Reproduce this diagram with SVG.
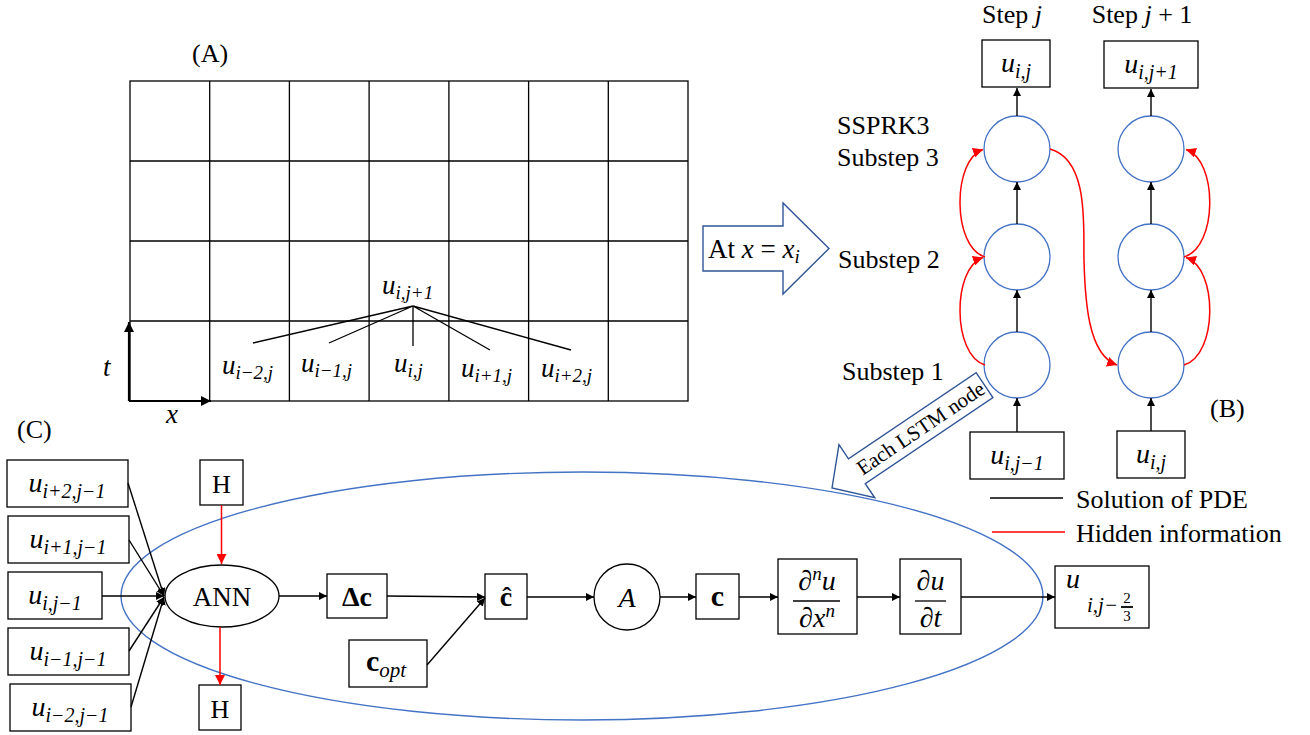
<svg xmlns="http://www.w3.org/2000/svg" width="1310" height="735" viewBox="0 0 1310 735">
<defs>
<style>
.r{font-family:"Liberation Serif","Times New Roman","DejaVu Serif",serif;font-size:26px;fill:#000}
.m{font-family:"Liberation Serif","Times New Roman","DejaVu Serif",serif;font-style:italic;font-size:28px;fill:#000}
.gm{font-family:"Liberation Serif","Times New Roman","DejaVu Serif",serif;font-style:italic;font-size:27px;fill:#000}
.s{font-size:20px}
.ln{stroke:#000;stroke-width:1.3;fill:none}
.box{stroke:#000;stroke-width:1.3;fill:#fff}
.cir{stroke:#4472C4;stroke-width:1.3;fill:#fff}
.red{stroke:#FF0000;stroke-width:1.5;fill:none}
.blk{stroke:#000;stroke-width:1.4;fill:none}
</style>
<marker id="ab" viewBox="0 0 10 10" refX="10" refY="5" markerWidth="8" markerHeight="8" markerUnits="userSpaceOnUse" orient="auto"><path d="M0,0 L10,5 L0,10 z" fill="#000"/></marker>
<marker id="abk" viewBox="0 0 10 10" refX="10" refY="5" markerWidth="10" markerHeight="10" markerUnits="userSpaceOnUse" orient="auto"><path d="M0,0 L10,5 L0,10 z" fill="#000"/></marker>
<marker id="ar" viewBox="0 0 10 10" refX="10" refY="5" markerWidth="10" markerHeight="10" markerUnits="userSpaceOnUse" orient="auto"><path d="M0,0 L10,5 L0,10 z" fill="#FF0000"/></marker>
</defs>
<rect width="1310" height="735" fill="#fff"/>

<!-- (A) grid -->
<g id="gridA">
<text class="r" x="192" y="62">(A)</text>
<rect x="130" y="81" width="558" height="320" class="ln"/>
<path class="ln" d="M209.7,81V401 M289.4,81V401 M369.1,81V401 M448.9,81V401 M528.6,81V401 M608.3,81V401 M130,161H688 M130,241H688 M130,321H688"/>
<line x1="129" y1="401" x2="129" y2="322" stroke="#000" stroke-width="2.2" marker-end="url(#abk)"/>
<line x1="129" y1="401" x2="211" y2="401" stroke="#000" stroke-width="2.2" marker-end="url(#abk)"/>
<text class="gm" x="103" y="376">t</text>
<text class="gm" x="166" y="423">x</text>
<path class="ln" d="M413,306L253,343 M413,306L329,343 M413,306L413,346 M413,306L490,350 M413,306L571,350"/>
<text class="gm" x="382" y="294">u<tspan dy="5" style="font-size:19px">i,j+1</tspan></text>
<text class="gm" x="222" y="374">u<tspan dy="5" style="font-size:19px">i−2,j</tspan></text>
<text class="gm" x="301" y="372">u<tspan dy="5" style="font-size:19px">i−1,j</tspan></text>
<text class="gm" x="394" y="372">u<tspan dy="5" style="font-size:19px">i,j</tspan></text>
<text class="gm" x="461" y="377">u<tspan dy="5" style="font-size:19px">i+1,j</tspan></text>
<text class="gm" x="541" y="377">u<tspan dy="5" style="font-size:19px">i+2,j</tspan></text>
</g>

<!-- block arrow At x = x_i -->
<g id="atArrow">
<path d="M703,226 H783 V203 L829,248.5 L783,294 V271 H703 Z" fill="#fff" stroke="#2F5597" stroke-width="1.4"/>
<text class="r" x="708" y="258" style="font-size:27px">At <tspan style="font-style:italic">x</tspan> = <tspan style="font-style:italic">x</tspan><tspan style="font-style:italic;font-size:19px" dy="5">i</tspan></text>
</g>

<!-- (B) labels -->
<g id="labelsB">
<text class="r" x="1012" y="23" text-anchor="middle">Step <tspan style="font-style:italic">j</tspan></text>
<text class="r" x="1142" y="23" text-anchor="middle">Step <tspan style="font-style:italic">j</tspan> + 1</text>
<text class="r" x="837" y="134">SSPRK3</text>
<text class="r" x="837" y="166">Substep 3</text>
<text class="r" x="838" y="268">Substep 2</text>
<text class="r" x="842" y="380">Substep 1</text>
<text class="r" x="1210" y="417">(B)</text>
</g>

<g id="boxTopJ"><rect class="box" x="982" y="40" width="68" height="47"/><text class="m" x="1016" y="72" text-anchor="middle">u<tspan class="s" dy="6">i,j</tspan></text></g>
<g id="boxTopJ1"><rect class="box" x="1104" y="41" width="94" height="47"/><text class="m" x="1151" y="73" text-anchor="middle">u<tspan class="s" dy="6">i,j+1</tspan></text></g>
<g id="boxBotJ"><rect class="box" x="970" y="432" width="94" height="47"/><text class="m" x="1017" y="464" text-anchor="middle">u<tspan class="s" dy="6">i,j−1</tspan></text></g>
<g id="boxBotJ1"><rect class="box" x="1117" y="431" width="68" height="47"/><text class="m" x="1151" y="463" text-anchor="middle">u<tspan class="s" dy="6">i,j</tspan></text></g>

<g id="c1a"><circle class="cir" cx="1017" cy="365" r="33"/></g>
<g id="c1b"><circle class="cir" cx="1017" cy="257" r="33"/></g>
<g id="c1c"><circle class="cir" cx="1017" cy="149" r="33"/></g>
<g id="c2a"><circle class="cir" cx="1151" cy="365" r="33"/></g>
<g id="c2b"><circle class="cir" cx="1151" cy="257" r="33"/></g>
<g id="c2c"><circle class="cir" cx="1151" cy="149" r="33"/></g>

<!-- legend -->
<g id="legend">
<line x1="990" y1="498" x2="1063" y2="498" stroke="#000" stroke-width="1.4"/>
<text class="r" x="1076" y="508">Solution of PDE</text>
<line x1="992" y1="532" x2="1065" y2="532" stroke="#FF0000" stroke-width="1.4"/>
<text class="r" x="1076" y="542">Hidden information</text>
</g>

<!-- Each LSTM node arrow -->
<g id="lstmArrow" transform="translate(832,488) rotate(-34)">
<path d="M0,0 L30,-32 L30,-15 L184,-15 L184,15 L30,15 L30,32 Z" fill="#fff" stroke="#2F5597" stroke-width="1.4"/>
<text class="r" x="107" y="7" text-anchor="middle" style="font-size:21px">Each LSTM node</text>
</g>

<!-- (C) -->
<text class="r" x="17" y="438">(C)</text>
<g id="bigEllipse"><ellipse cx="582" cy="596" rx="461" ry="124" fill="none" stroke="#4472C4" stroke-width="1.4"/></g>

<g id="in1"><rect class="box" x="7" y="460" width="121" height="47"/><text class="m" x="67" y="492" text-anchor="middle">u<tspan class="s" dy="6">i+2,j−1</tspan></text></g>
<g id="in2"><rect class="box" x="8" y="516" width="121" height="47"/><text class="m" x="68" y="548" text-anchor="middle">u<tspan class="s" dy="6">i+1,j−1</tspan></text></g>
<g id="in3"><rect class="box" x="8" y="572" width="94" height="47"/><text class="m" x="55" y="604" text-anchor="middle">u<tspan class="s" dy="6">i,j−1</tspan></text></g>
<g id="in4"><rect class="box" x="8" y="628" width="121" height="47"/><text class="m" x="68" y="660" text-anchor="middle">u<tspan class="s" dy="6">i−1,j−1</tspan></text></g>
<g id="in5"><rect class="box" x="10" y="684" width="121" height="47"/><text class="m" x="70" y="716" text-anchor="middle">u<tspan class="s" dy="6">i−2,j−1</tspan></text></g>

<g id="ann"><ellipse cx="222" cy="596" rx="57" ry="31" fill="#fff" stroke="#000" stroke-width="1.3"/><text class="r" x="222" y="606" text-anchor="middle" style="font-size:27px">ANN</text></g>
<g id="hTop"><rect class="box" x="200" y="460" width="43" height="45"/><text class="r" x="221.5" y="493" text-anchor="middle">H</text></g>
<g id="hBot"><rect class="box" x="199" y="685" width="42" height="45"/><text class="r" x="220" y="718" text-anchor="middle">H</text></g>

<g id="dc"><rect class="box" x="327" y="574" width="60" height="44"/><text class="r" x="357" y="606" text-anchor="middle" style="font-size:28px;font-weight:bold">Δc</text></g>
<g id="copt"><rect class="box" x="349" y="640" width="78" height="47"/><text class="r" x="386" y="671" text-anchor="middle" style="font-size:30px"><tspan font-weight="bold">c</tspan><tspan style="font-style:italic;font-size:21px" dy="6">opt</tspan></text></g>
<g id="chat"><rect class="box" x="485" y="574" width="42" height="45"/><text class="r" x="506" y="606" text-anchor="middle" style="font-size:28px;font-weight:bold">ĉ</text></g>
<g id="aNode"><circle cx="627" cy="597" r="33" fill="#fff" stroke="#000" stroke-width="1.3"/><text class="m" x="627" y="607" text-anchor="middle">A</text></g>
<g id="cNode"><rect class="box" x="696" y="574" width="43" height="45"/><text class="r" x="717.5" y="606" text-anchor="middle" style="font-size:30px;font-weight:bold">c</text></g>
<g id="dnu"><rect class="box" x="778" y="559" width="79" height="75"/>
<text class="m" x="817" y="590" text-anchor="middle">∂<tspan style="font-size:19px" dy="-10">n</tspan><tspan dy="10">u</tspan></text>
<line x1="793" y1="601" x2="840" y2="601" stroke="#000" stroke-width="1.3"/>
<text class="m" x="817" y="627" text-anchor="middle">∂x<tspan style="font-size:19px" dy="-10">n</tspan></text></g>
<g id="dut"><rect class="box" x="900" y="559" width="61" height="75"/>
<text class="m" x="930.5" y="590" text-anchor="middle">∂u</text>
<line x1="915" y1="601" x2="946" y2="601" stroke="#000" stroke-width="1.3"/>
<text class="m" x="930.5" y="627" text-anchor="middle">∂t</text></g>
<g id="uOut"><rect class="box" x="1055" y="566" width="94" height="62"/>
<text class="m" x="1066" y="588">u</text>
<text class="m" x="1087" y="612" style="font-size:21px">i,j−</text>
<text class="r" x="1127" y="603" text-anchor="middle" style="font-size:15px">2</text>
<line x1="1121" y1="607" x2="1133" y2="607" stroke="#000" stroke-width="1.8"/>
<text class="r" x="1127" y="621" text-anchor="middle" style="font-size:15px">3</text></g>

<!-- connectors -->
<g id="connectors">
<path class="blk" d="M1017,116V88" marker-end="url(#ab)"/>
<path class="blk" d="M1017,224V182" marker-end="url(#ab)"/>
<path class="blk" d="M1017,332V290" marker-end="url(#ab)"/>
<path class="blk" d="M1017,432V398" marker-end="url(#ab)"/>
<path class="blk" d="M1151,116V89" marker-end="url(#ab)"/>
<path class="blk" d="M1151,224V182" marker-end="url(#ab)"/>
<path class="blk" d="M1151,332V290" marker-end="url(#ab)"/>
<path class="blk" d="M1151,431V398" marker-end="url(#ab)"/>

<path class="red" d="M985,365 C952,355 952,268 983,257.5" marker-end="url(#ar)"/>
<path class="red" d="M985,257 C952,247 952,160 983,149.5" marker-end="url(#ar)"/>
<path class="red" d="M1050,149 C1090,160 1083,230 1084,260 C1085,300 1088,355 1117,365" marker-end="url(#ar)"/>
<path class="red" d="M1184,365 C1218,355 1218,268 1186,257.5" marker-end="url(#ar)"/>
<path class="red" d="M1184,257 C1218,247 1218,160 1186,149.5" marker-end="url(#ar)"/>

<path class="red" d="M221.5,505V564" marker-end="url(#ar)"/>
<path class="red" d="M220,627V685" marker-end="url(#ar)"/>

<path class="blk" d="M128,483L164,596" marker-end="url(#ab)"/>
<path class="blk" d="M129,540L164,596" marker-end="url(#ab)"/>
<path class="blk" d="M102,596L164,596" marker-end="url(#ab)"/>
<path class="blk" d="M129,651L164,597" marker-end="url(#ab)"/>
<path class="blk" d="M131,707L164,597" marker-end="url(#ab)"/>

<path class="blk" d="M279,596H327" marker-end="url(#ab)"/>
<path class="blk" d="M387,596L485,597" marker-end="url(#ab)"/>
<path class="blk" d="M427,665L485,598" marker-end="url(#ab)"/>
<path class="blk" d="M527,597H594" marker-end="url(#ab)"/>
<path class="blk" d="M660,597H696" marker-end="url(#ab)"/>
<path class="blk" d="M739,597H778" marker-end="url(#ab)"/>
<path class="blk" d="M857,597H900" marker-end="url(#ab)"/>
<path class="blk" d="M961,597H1055" marker-end="url(#ab)"/>
</g>
</svg>
